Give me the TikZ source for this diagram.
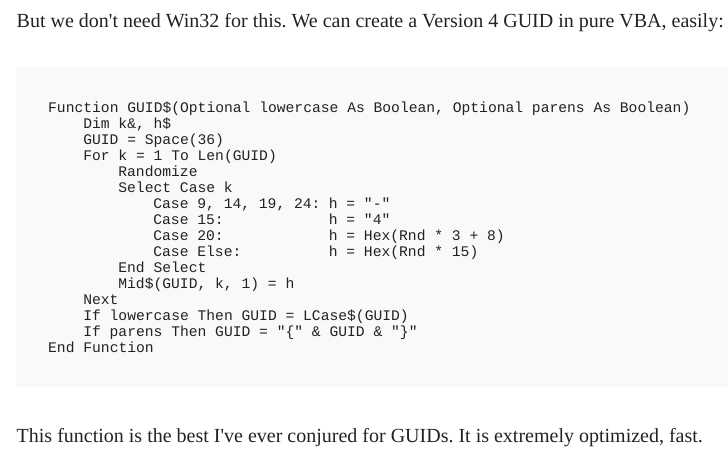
\documentclass[tikz,border=0pt]{standalone}
\usepackage{fontspec}
\setmainfont{Liberation Serif}
\setmonofont{Liberation Mono}
\usetikzlibrary{positioning}
\definecolor{codebg}{HTML}{F8F9FA}
\definecolor{ink}{HTML}{222222}
\frenchspacing

\begin{document}
\begin{tikzpicture}[x=1pt, y=-1pt,
    prose/.style={anchor=base west, inner sep=0pt, text=ink, font=\fontsize{20}{24}\selectfont},
    codeline/.style={anchor=base west, inner sep=0pt, text=ink, font=\fontsize{14.66}{16}\selectfont\ttfamily}]

    \useasboundingbox (0,0) rectangle (728,453);
    \fill[codebg] (16,67) rectangle (728,387);

    \node (intro) [prose] at (16.5,27) {But we don\textquotesingle t need Win32 for this. We can create a Version 4 GUID in pure VBA, easily:};

    % Code block
    \node (fn) [codeline] at (48,112) {Function GUID\$(Optional lowercase As Boolean, Optional parens As Boolean)};
    \node (dim) [codeline] at (83.1,128) {Dim k\&, h\$};
    \node (space) [codeline] at (83.1,144) {GUID = Space(36)};
    \node (for) [codeline] at (83.1,160) {For k = 1 To Len(GUID)};
    \node (rand) [codeline] at (118.2,176) {Randomize};
    \node (sel) [codeline] at (118.2,192) {Select Case k};
    \node (case1) [codeline] at (153.2,208) {Case 9, 14, 19, 24:};
    \node (h1) [codeline] at (328.6,208) {h = "-"};
    \node (case2) [codeline] at (153.2,224) {Case 15:};
    \node (h2) [codeline] at (328.6,224) {h = "4"};
    \node (case3) [codeline] at (153.2,240) {Case 20:};
    \node (h3) [codeline] at (328.6,240) {h = Hex(Rnd * 3 + 8)};
    \node (case4) [codeline] at (153.2,256) {Case Else:};
    \node (h4) [codeline] at (328.6,256) {h = Hex(Rnd * 15)};
    \node (endsel) [codeline] at (118.2,272) {End Select};
    \node (mid) [codeline] at (118.2,288) {Mid\$(GUID, k, 1) = h};
    \node (next) [codeline] at (83.1,304) {Next};
    \node (lcase) [codeline] at (83.1,320) {If lowercase Then GUID = LCase\$(GUID)};
    \node (parens) [codeline] at (83.1,336) {If parens Then GUID = "\{" \& GUID \& "\}"};
    \node (endfn) [codeline] at (48,352) {End Function};

    \node (outro) [prose] at (16.5,442) {This function is the best I\textquotesingle ve ever conjured for GUIDs. It is extremely optimized, fast.};

\end{tikzpicture}
\end{document}
